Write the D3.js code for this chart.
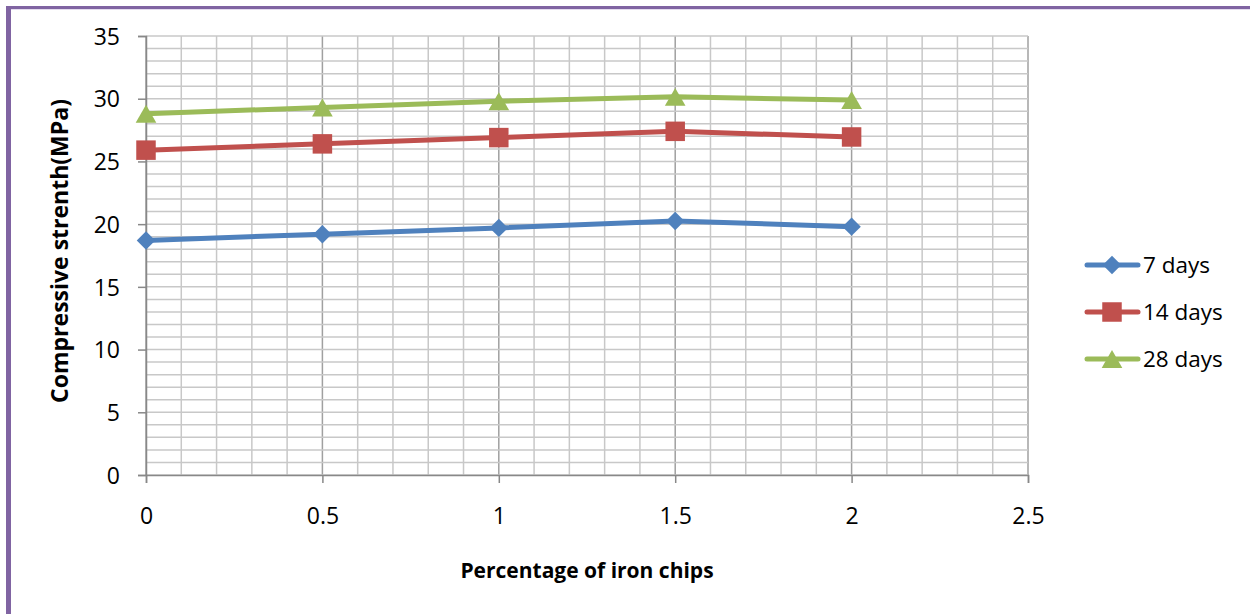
<!DOCTYPE html>
<html>
<head>
<meta charset="utf-8">
<script src="https://cdn.jsdelivr.net/npm/d3@7"></script>
<style>
  html, body { margin: 0; padding: 0; background: #fff; }
  svg { display: block; font-family: "Open Sans", Lato, sans-serif; }
</style>
</head>
<body>
<svg id="chart" width="1250" height="614"></svg>
<script>
// Iron chip content (%) and compressive strength (MPa) at each curing age
const ironChips = [0, 0.5, 1, 1.5, 2];
const days7  = [18.7, 19.2, 19.7, 20.25, 19.8];
const days14 = [25.9, 26.4, 26.9, 27.4, 26.95];
const days28 = [28.8, 29.3, 29.8, 30.15, 29.9];
const seriesNames = ["7 days", "14 days", "28 days"];
const xTicks = [0, 0.5, 1, 1.5, 2, 2.5];
const yTicks = [0, 5, 10, 15, 20, 25, 30, 35];

const series = [
  { name: seriesNames[0], values: days7,  color: "#4f81bd", shape: "diamond" },
  { name: seriesNames[1], values: days14, color: "#c0504d", shape: "square" },
  { name: seriesNames[2], values: days28, color: "#9bbb59", shape: "triangle" }
];

const svg = d3.select("#chart");

// frame edges
svg.append("rect").attr("x", 6).attr("y", 6).attr("width", 1244).attr("height", 3).attr("fill", "#8064a2");
svg.append("rect").attr("x", 6).attr("y", 9).attr("width", 1244).attr("height", 1).attr("fill", "#e4dcee");
svg.append("rect").attr("x", 6).attr("y", 6).attr("width", 5).attr("height", 608).attr("fill", "#8064a2");

const x = d3.scaleLinear().domain([0, 2.5]).range([146, 1028]);
const y = d3.scaleLinear().domain([0, 35]).range([475, 36]);

const grid = svg.append("g");
// vertical lines every 0.1, darker at each labelled step
d3.range(0, 2.5001, 0.1).forEach(v => {
  const major = Math.abs(v * 2 - Math.round(v * 2)) < 1e-6;
  grid.append("line")
    .attr("x1", x(v)).attr("x2", x(v)).attr("y1", y(35)).attr("y2", y(0))
    .attr("stroke", major ? "#a0a0a0" : "#c8c8c8").attr("stroke-width", 1.5);
});
// horizontal lines every 1 MPa
d3.range(0, 35.001, 1).forEach(v => {
  grid.append("line")
    .attr("x1", x(0)).attr("x2", x(2.5)).attr("y1", y(v)).attr("y2", y(v))
    .attr("stroke", "#c8c8c8").attr("stroke-width", 1.5);
});

// axes
const yAxis = svg.append("g").attr("transform", `translate(${x(0)},0)`)
  .call(d3.axisLeft(y).tickValues(yTicks).tickSize(8).tickPadding(18).tickFormat(d3.format("d")));
const xAxis = svg.append("g").attr("transform", `translate(0,${y(0)})`)
  .call(d3.axisBottom(x).tickValues(xTicks).tickSize(8).tickPadding(25).tickFormat(d => String(d)));
[yAxis, xAxis].forEach(a => {
  a.select(".domain").attr("stroke", "#888").attr("stroke-width", 1.5);
  a.selectAll(".tick line").attr("stroke", "#888").attr("stroke-width", 1.5);
  a.selectAll(".tick text").attr("fill", "#000").style("font-size", "23px")
    .style("font-family", "'Open Sans', Lato, sans-serif");
});
yAxis.selectAll(".tick text").attr("dy", "0.36em");

// axis titles
svg.append("text").attr("x", 587).attr("y", 578).attr("text-anchor", "middle")
  .style("font-size", "21px").style("font-weight", "bold").text("Percentage of iron chips");
svg.append("text").attr("transform", "translate(68,251) rotate(-90)").attr("text-anchor", "middle")
  .style("font-size", "23px").style("font-weight", "bold").text("Compressive strenth(MPa)");

const symbolFor = {
  diamond: d3.symbol().type(d3.symbolSquare).size(170),
  square: d3.symbol().type(d3.symbolSquare).size(380),
  triangle: d3.symbol().type(d3.symbolTriangle).size(185)
};

function drawMarker(g, shape, cx, cy, color) {
  const p = g.append("path").attr("d", symbolFor[shape]()).attr("fill", color);
  if (shape === "diamond") p.attr("transform", `translate(${cx},${cy}) rotate(45)`);
  else if (shape === "triangle") p.attr("transform", `translate(${cx},${cy + 3})`);
  else p.attr("transform", `translate(${cx},${cy})`);
}

const line = d3.line().x((d, i) => x(ironChips[i])).y(d => y(d));

series.forEach(s => {
  const g = svg.append("g");
  g.append("path").datum(s.values).attr("d", line).attr("fill", "none")
    .attr("stroke", s.color).attr("stroke-width", 5).attr("stroke-linejoin", "round");
  s.values.forEach((v, i) => drawMarker(g, s.shape, x(ironChips[i]), y(v), s.color));
});

// legend
const legendY = d3.scalePoint().domain(seriesNames).range([265, 359]);
series.forEach(s => {
  const ly = legendY(s.name);
  const g = svg.append("g");
  g.append("line").attr("x1", 1087).attr("x2", 1138).attr("y1", ly).attr("y2", ly)
    .attr("stroke", s.color).attr("stroke-width", 5).attr("stroke-linecap", "round");
  drawMarker(g, s.shape, 1112, ly, s.color);
  g.append("text").attr("x", 1143).attr("y", ly).attr("dy", "0.36em")
    .style("font-size", "22.5px").attr("fill", "#000").text(s.name);
});
</script>
</body>
</html>
